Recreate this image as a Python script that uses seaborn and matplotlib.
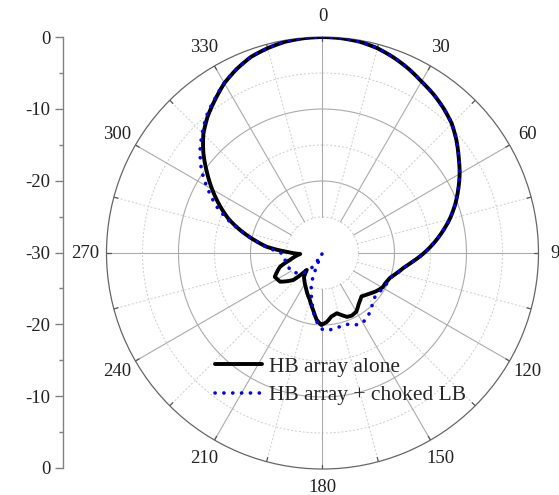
import numpy as np
import pandas as pd
import matplotlib
matplotlib.use("Agg")
import matplotlib.pyplot as plt
import seaborn as sns

# ---------------- data (angle in degrees, gain in dB) ----------------
alone_theta = [0, 5, 10, 15, 20, 25, 30, 35, 40, 45, 50, 55, 60, 65, 70, 75, 80, 85,
               90, 95, 100, 105, 110, 115, 120, 126, 131, 138, 144, 150, 155, 159,
               163, 166.7, 172, 176.5, 181, 185, 189, 195, 205, 212, 217.6, 222.9,
               227.2, 235.9, 243.5, 252, 258, 267.5, 272, 276.4, 280, 285, 290, 295,
               300, 305, 310, 315, 320, 325, 330, 335, 340, 345, 350, 355, 360]
alone_gain = [0, -0.05, -0.2, -0.55, -1.1, -1.75, -2.5, -3.1, -3.8, -4.6, -5.7, -6.9,
              -8.0, -9.2, -10.4, -11.7, -13.1, -14.5, -15.9, -17.3, -18.5, -19.3,
              -20.0, -20.3, -20.4, -20.9, -21.4, -21.9, -21.4, -20.6, -20.4, -20.5,
              -21.0, -21.4, -21.1, -20.4, -20.0, -20.7, -21.9, -23.25, -24.6, -25.3,
              -25.8, -26.8, -24.5, -22.9, -22.6, -23.8, -25.4, -26.9, -25.0, -22.2,
              -20.7, -18.4, -16.1, -14.2, -12.3, -10.4, -8.4, -6.6, -5.2, -4.0, -2.75,
              -1.8, -1.0, -0.55, -0.2, -0.05, 0]

choked_theta = [0, 5, 10, 15, 20, 25, 30, 35, 40, 45, 50, 55, 60, 65, 70, 75, 80, 85,
                90, 95, 100, 105, 110, 115, 120, 124, 130, 137.5, 146, 152.3, 156.2,
                160.7, 166.6, 173, 179.4, 182, 185.5, 189.5, 192.6, 197.3, 201.6, 203.5,
                208, 212, 214, 216, 220, 228, 238.7, 246, 253.9, 260, 267, 272, 275,
                279.3, 283.4, 288.7, 293.6, 299.8, 304.5, 310, 315, 320, 325, 330, 335,
                340, 345, 350, 355, 360]
choked_gain = [0, -0.05, -0.2, -0.55, -1.1, -1.75, -2.5, -3.1, -3.8, -4.6, -5.7, -6.9,
               -8.0, -9.2, -10.4, -11.7, -13.1, -14.5, -15.9, -17.3, -18.5, -19.3,
               -20.0, -20.1, -20.3, -20.4, -20.5, -19.9, -19.0, -18.8, -19.1, -19.5,
               -19.5, -19.3, -19.3, -19.7, -20.6, -22.0, -23.3, -24.6, -26.4, -28.0,
               -29.9, -29.5, -28.5, -27.5, -26.6, -25.8, -25.0, -24.9, -24.8, -24.7,
               -24.6, -24.0, -22.5, -21.0, -19.2, -16.4, -14.0, -11.5, -9.6, -7.8,
               -6.4, -5.0, -3.9, -2.7, -1.8, -1.0, -0.55, -0.2, -0.05, 0]

angle_labels = [0, 30, 60, 90, 120, 150, 180, 210, 240, 270, 300, 330]
side_ticks = [0, 10, 20, 30, 40, 50, 60]
side_labels = ["0", "-10", "-20", "-30", "-20", "-10", "0"]
series_names = ["HB array alone", "HB array + choked LB"]

# ---------------- style ----------------
sns.set_style("white")
plt.rcParams["font.family"] = ["Liberation Serif", "DejaVu Serif"]

fig = plt.figure(figsize=(5.59, 4.95), dpi=100)
ax = fig.add_axes([0.1905, 0.0525, 0.7728, 0.8727], projection="polar")
ax.set_theta_zero_location("N")
ax.set_theta_direction(-1)
ax.set_ylim(-30, 0)
ax.grid(False)

solid_c = "#ababab"
dot_c = "#cdcdcd"
th = np.linspace(0, 2 * np.pi, 721)
for r in [-20, -10]:
    ax.plot(th, np.full_like(th, r), color=solid_c, lw=0.8, zorder=1)
for r in [-25, -15, -5]:
    ax.plot(th, np.full_like(th, r), color=dot_c, lw=0.7, ls=(0, (2, 2)), zorder=1)
for a in range(0, 360, 15):
    t = np.deg2rad(a)
    if a % 30 == 0:
        ax.plot([t, t], [-25, 0], color=solid_c, lw=0.8, zorder=1)
    else:
        ax.plot([t, t], [-25, 0], color=dot_c, lw=0.7, ls=(0, (2, 2)), zorder=1)
    ax.plot([t, t], [-0.6, 0], color="#555555", lw=0.9, zorder=2)

ax.set_xticks([])
ax.set_yticks([])
ax.spines["polar"].set_edgecolor("#666666")
ax.spines["polar"].set_linewidth(0.9)

for a in angle_labels:
    rr = 2.9 if a != 180 else 2.5
    ax.text(np.deg2rad(a), rr, str(a), ha="center", va="center",
            fontsize=13.5, color="#222222", clip_on=False)

df_a = pd.DataFrame({"theta": np.deg2rad(alone_theta), "gain": alone_gain})
df_c = pd.DataFrame({"theta": np.deg2rad(choked_theta), "gain": choked_gain})

sns.lineplot(data=df_a, x="theta", y="gain", ax=ax, sort=False, estimator=None,
             color="black", lw=2.8, zorder=3, label=series_names[0])
sns.lineplot(data=df_c, x="theta", y="gain", ax=ax, sort=False, estimator=None,
             color="#0000ff", lw=2.6, zorder=4, label=series_names[1])
lines = ax.get_lines()
lines[-1].set_linestyle((0, (0.05, 2.4)))
lines[-1].set_dash_capstyle("round")
lines[-2].set_solid_joinstyle("round")
# draw straight data segments as arcs in polar space (rendering only)
for ln in lines[-2:]:
    ln.recache(always=True)
    ln.get_path()._interpolation_steps = 16
ax.set_xlabel("")
ax.set_ylabel("")

h, l = ax.get_legend_handles_labels()
leg = ax.legend(h, l, loc="center left", bbox_to_anchor=(215 / 559, 1 - 381 / 495),
                bbox_transform=fig.transFigure, frameon=False, fontsize=15.5,
                handlelength=2.2, handletextpad=0.3, borderpad=0, borderaxespad=0,
                labelspacing=0.4)
leg.get_lines()[0].set_linewidth(2.8)
leg.get_lines()[1].set_linewidth(2.6)
leg.get_lines()[1].set_linestyle((0, (0.05, 2.4)))
leg.get_lines()[1].set_dash_capstyle("round")

# ---------------- left linear scale ----------------
ax2 = fig.add_axes([63 / 559, 27 / 495, 0.01, 431 / 495])
ax2.set_facecolor("none")
for s in ["top", "right", "bottom"]:
    ax2.spines[s].set_visible(False)
ax2.spines["left"].set_color("#808080")
ax2.spines["left"].set_linewidth(1.0)
ax2.set_ylim(0, 60)
ax2.set_xticks([])
ax2.set_yticks(side_ticks)
ax2.set_yticklabels(side_labels)
ax2.set_yticks([5, 15, 25, 35, 45, 55], minor=True)
ax2.tick_params(axis="y", which="major", direction="out", length=6, width=1,
                color="#808080", labelsize=13.5, labelcolor="#222222", pad=3, left=True)
ax2.tick_params(axis="y", which="minor", direction="out", length=3, width=1,
                color="#808080", left=True)

fig.savefig("out.png", dpi=100)
